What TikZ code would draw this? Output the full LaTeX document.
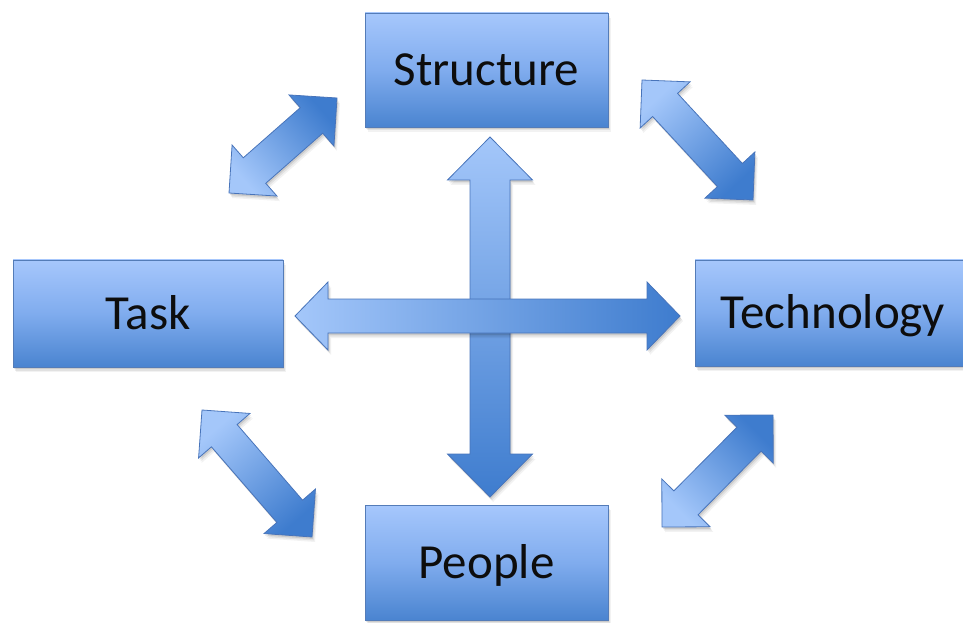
\documentclass[tikz,border=0pt]{standalone}
\usepackage{fontspec}
\setmainfont{Carlito}
\usetikzlibrary{calc,shadows}

\definecolor{boxtop}{RGB}{166,199,252}
\definecolor{boxmid}{RGB}{128,172,238}
\definecolor{boxbot}{RGB}{74,132,208}
\definecolor{boxline}{RGB}{84,124,184}
\definecolor{arrlight}{RGB}{164,199,250}
\definecolor{arrdark}{RGB}{62,124,206}
\definecolor{arrline}{RGB}{72,116,186}

% Double-headed block arrow from #2 (light end) to #3 (dark end).
% #1 name prefix, #4 half shaft width, #5 half head width, #6 head length,
% #7 shading angle (direction of #3 seen from #2, minus 90)
\newcommand\blockarr[7]{%
  \coordinate (#1-h1) at ($(#2)!#6!(#3)$);
  \coordinate (#1-h2) at ($(#3)!#6!(#2)$);
  \draw[blockarrow, shading angle=#7]
    (#2) -- ($(#1-h1)!#5!90:(#3)$) -- ($(#1-h1)!#4!90:(#3)$)
    -- ($(#1-h2)!#4!-90:(#2)$) -- ($(#1-h2)!#5!-90:(#2)$)
    -- (#3)
    -- ($(#1-h2)!#5!90:(#2)$) -- ($(#1-h2)!#4!90:(#2)$)
    -- ($(#1-h1)!#4!-90:(#3)$) -- ($(#1-h1)!#5!-90:(#3)$)
    -- cycle;
}

\begin{document}
\begin{tikzpicture}[x=1pt,y=1pt,
  softshadow/.style={
    drop shadow={shadow xshift=1pt,shadow yshift=-2pt,opacity=0.10,fill=black},
    drop shadow={shadow xshift=2pt,shadow yshift=-3.5pt,opacity=0.07,fill=black},
    drop shadow={shadow xshift=3pt,shadow yshift=-5pt,opacity=0.05,fill=black}},
  box/.style={draw=boxline, line width=0.8pt,
    top color=boxtop, bottom color=boxbot, middle color=boxmid,
    font=\fontsize{49}{58}\selectfont, text=black!95, inner sep=0pt,
    text height=31.5pt, text depth=0pt, softshadow},
  blockarrow/.style={draw=arrline, line width=0.8pt, line join=miter,
    top color=arrdark, bottom color=arrlight, softshadow}]

\path[use as bounding box] (0,0) rectangle (963,622);
\clip (0,0) rectangle (963,622);

% arrow end points
\coordinate (tl-a) at (229,429);   \coordinate (tl-b) at (337,524);
\coordinate (tr-a) at (642,542);   \coordinate (tr-b) at (753,422);
\coordinate (bl-a) at (202,212);   \coordinate (bl-b) at (312,85);
\coordinate (br-a) at (662,95);    \coordinate (br-b) at (773,207);
\coordinate (v-a) at (490,485);    \coordinate (v-b) at (490,125);
\coordinate (h-a) at (295,306);    \coordinate (h-b) at (680,306);

% diagonal arrows between neighbouring boxes
\blockarr{tl}{tl-a}{tl-b}{17pt}{34pt}{34pt}{-48.7}
\blockarr{tr}{tr-a}{tr-b}{17pt}{34pt}{34pt}{-137.2}
\blockarr{bl}{bl-a}{bl-b}{17pt}{34pt}{34pt}{-139}
\blockarr{br}{br-a}{br-b}{17pt}{34pt}{34pt}{-45}

% central cross
\blockarr{v}{v-a}{v-b}{20pt}{42.5pt}{43pt}{-180}
\blockarr{h}{h-a}{h-b}{17pt}{34pt}{33pt}{-90}

% boxes
\node[box, minimum width=243pt, minimum height=114pt] (structure) at (486.5,552) {Structure};
\node[box, minimum width=270pt, minimum height=107pt] (task) at (148,308.5) {Task};
\node[box, minimum width=276pt, minimum height=106pt] (technology) at (833,309) {Technology};
\node[box, minimum width=243pt, minimum height=115pt] (people) at (486.5,59.5) {People};

\end{tikzpicture}
\end{document}
